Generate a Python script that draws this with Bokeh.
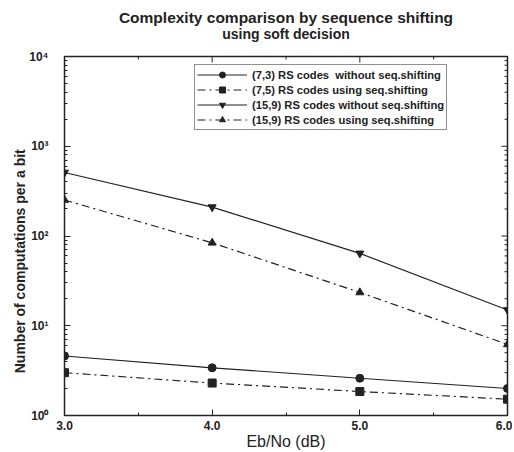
from bokeh.plotting import figure
from bokeh.models import Range1d, FixedTicker, LogTicker, Title, Legend, LegendItem
from bokeh.embed import file_html
from bokeh.resources import INLINE
import math

# ---- data ----
eb_no = [3.0, 4.0, 5.0, 6.0]
rs73_without = [4.6, 3.4, 2.6, 2.0]
rs75_using = [3.0, 2.3, 1.85, 1.52]
rs159_without = [510, 210, 64, 15]
rs159_using = [252, 84, 23.5, 6.2]
x_ticks = [3.0, 4.0, 5.0, 6.0]
x_minor = [3.5, 4.5, 5.5]
x_tick_labels = {3.0: "3.0", 4.0: "4.0", 5.0: "5.0", 6.0: "6.0"}
y_ticks = [1, 10, 100, 1000, 10000]
y_tick_labels = {1: "10\u2070", 10: "10\u00b9", 100: "10\u00b2", 1000: "10\u00b3", 10000: "10\u2074"}
series_labels = ["(7,3) RS codes  without seq.shifting",
                 "(7,5) RS codes using seq.shifting",
                 "(15,9) RS codes without seq.shifting",
                 "(15,9) RS codes using seq.shifting"]

FONT = "Liberation Sans"
INK = "#222222"

p = figure(width=512, height=452, output_backend="svg", toolbar_location=None,
           y_axis_type="log", x_range=Range1d(3, 6), y_range=Range1d(1, 10000),
           title=None, min_border_left=64, min_border_right=5,
           min_border_top=56, min_border_bottom=33)
p.background_fill_color = "white"
p.border_fill_color = "white"
p.xgrid.visible = False
p.ygrid.visible = False
p.outline_line_color = INK
p.outline_line_width = 1.5

# titles
p.add_layout(Title(text="using soft decision", align="center", text_font=FONT,
                   text_font_size="14px", text_font_style="bold",
                   text_color=INK, standoff=30, offset=0), "above")
p.add_layout(Title(text="Complexity comparison by sequence shifting", align="center",
                   text_font=FONT, text_font_size="15.5px", text_font_style="bold",
                   text_color=INK, standoff=-34, offset=0), "above")

xticker = FixedTicker(ticks=x_ticks, minor_ticks=x_minor)
yticker = LogTicker(num_minor_ticks=10)

def style_axis(ax):
    ax.axis_line_color = None
    ax.major_tick_in = 6
    ax.major_tick_out = 0
    ax.minor_tick_in = 3
    ax.minor_tick_out = 0
    ax.major_tick_line_color = INK
    ax.minor_tick_line_color = INK

xa = p.xaxis[0]
xa.ticker = xticker
xa.major_label_overrides = x_tick_labels
style_axis(xa)
xa.major_label_text_font = FONT
xa.major_label_text_font_size = "12px"
xa.major_label_text_font_style = "bold"
xa.major_label_text_color = INK
xa.major_label_standoff = 5
xa.axis_label = "Eb/No (dB)"
xa.axis_label_text_font = FONT
xa.axis_label_text_font_size = "16px"
xa.axis_label_text_font_style = "normal"
xa.axis_label_text_color = INK
xa.axis_label_standoff = 0

ya = p.yaxis[0]
ya.ticker = yticker
ya.major_label_overrides = y_tick_labels
style_axis(ya)
ya.major_label_text_font = FONT
ya.major_label_text_font_size = "12px"
ya.major_label_text_font_style = "bold"
ya.major_label_text_color = INK
ya.major_label_standoff = 16
ya.axis_label = "Number of computations per a bit" + "\u00a0" * 13
ya.axis_label_text_font = FONT
ya.axis_label_text_font_size = "14px"
ya.axis_label_text_font_style = "bold"
ya.axis_label_text_color = INK
ya.axis_label_standoff = -2

# mirrored ticks on the top and right edges (dash markers half-clipped by the frame)
x_hi = p.x_range.end
y_hi = p.y_range.end
y_minor = [m * d for d in y_ticks[:-1] for m in range(2, 10)]
p.scatter([x_hi] * len(y_ticks), y_ticks, marker="dash", size=12, line_color=INK, line_width=1)
p.scatter([x_hi] * len(y_minor), y_minor, marker="dash", size=6, line_color=INK, line_width=1)
p.scatter(x_ticks, [y_hi] * len(x_ticks), marker="dash", angle=math.pi / 2, size=12, line_color=INK, line_width=1)
p.scatter(x_minor, [y_hi] * len(x_minor), marker="dash", angle=math.pi / 2, size=6, line_color=INK, line_width=1)

dashdot = "8 4 2 4"
specs = [
    (rs73_without, "solid", "circle"),
    (rs75_using, dashdot, "square"),
    (rs159_without, "solid", "inverted_triangle"),
    (rs159_using, dashdot, "triangle"),
]
items = []
for lab, (vals, dash, mk) in zip(series_labels, specs):
    l = p.line(eb_no, vals, line_color=INK, line_width=1.2, line_dash=dash)
    s = p.scatter(eb_no, vals, marker=mk, size=8, fill_color=INK, line_color=INK)
    items.append(LegendItem(label=lab, renderers=[l, s]))

legend = Legend(items=items, location=(130, 285))
legend.label_text_font = FONT
legend.label_text_font_size = "11.2px"
legend.label_text_font_style = "bold"
legend.label_text_color = INK
legend.glyph_width = 50
legend.glyph_height = 15
legend.label_height = 15
legend.label_standoff = 5
legend.spacing = 0
legend.padding = 2
legend.margin = 0
legend.border_line_color = INK
legend.border_line_width = 1
legend.background_fill_alpha = 1
p.add_layout(legend, "center")

open("out.html", "w").write(file_html(p, INLINE))
